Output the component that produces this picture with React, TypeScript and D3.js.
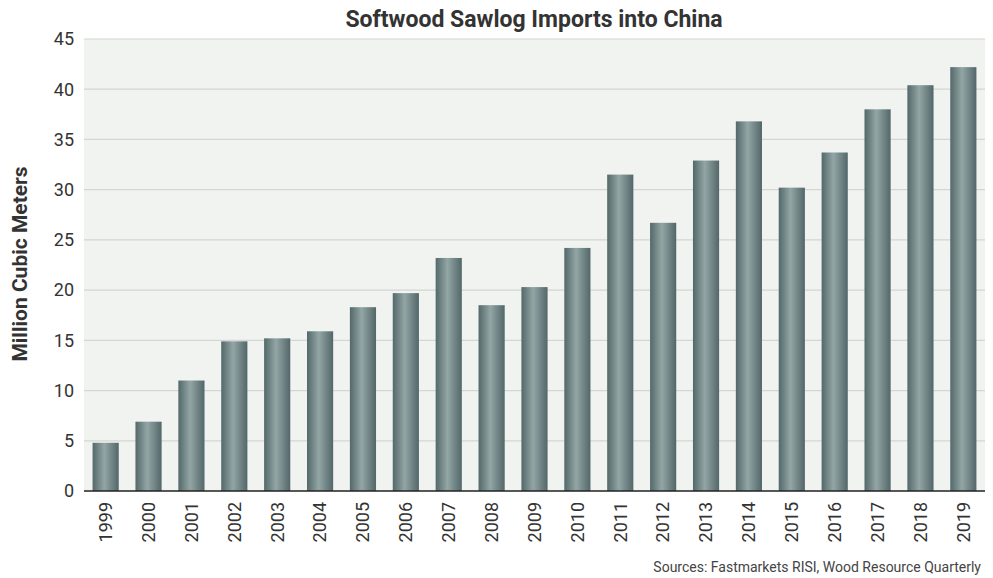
import React from "react";
import * as d3 from "d3";

const years = ["1999","2000","2001","2002","2003","2004","2005","2006","2007","2008","2009","2010","2011","2012","2013","2014","2015","2016","2017","2018","2019"];
const values = [4.8,6.9,11.0,14.9,15.2,15.9,18.3,19.7,23.2,18.5,20.3,24.2,31.5,26.7,32.9,36.8,30.2,33.7,38.0,40.4,42.2];
const yTicks = [0,5,10,15,20,25,30,35,40,45];

const W = 993, H = 578;
const m = { left: 84, right: 8, top: 39, bottom: 87 };

export default function App() {
  const x = d3.scaleBand<string>().domain(years).range([m.left, W - m.right]).paddingInner(0.39).paddingOuter(0.2);
  const y = d3.scaleLinear().domain([0, 45]).range([H - m.bottom, m.top]);
  const font = "Roboto, 'Noto Sans', sans-serif";
  return (
    <svg width={W} height={H} style={{ position: "absolute", left: 0, top: 0 }} fontFamily={font}>
      <defs>
        <linearGradient id="barg" x1="0" x2="1" y1="0" y2="0">
          <stop offset="0%" stopColor="#53686a" />
          <stop offset="45%" stopColor="#93a6a5" />
          <stop offset="100%" stopColor="#53676a" />
        </linearGradient>
      </defs>
      <rect x={0} y={0} width={W} height={H} fill="#ffffff" />
      <rect x={m.left} y={m.top} width={W - m.right - m.left} height={y(0) - m.top} fill="#f0f3ef" />
      {yTicks.map(t => (
        <g key={t}>
          {t > 0 && <line x1={m.left} x2={W - m.right} y1={y(t)} y2={y(t)} stroke="#d3d6d2" strokeWidth={1.2} />}
          <text x={74} y={y(t)} dy="0.35em" textAnchor="end" fontSize={18} fill="#333">{t}</text>
        </g>
      ))}
      {years.map((yr, i) => (
        <rect key={yr} x={x(yr)} y={y(values[i])} width={x.bandwidth()} height={y(0) - y(values[i])} fill="url(#barg)" />
      ))}
      <line x1={m.left} x2={W - m.right} y1={y(0)} y2={y(0)} stroke="#222" strokeWidth={1.5} />
      {years.map(yr => (
        <text key={yr} transform={`translate(${(x(yr) as number) + x.bandwidth() / 2},${y(0) + 11}) rotate(-90)`} textAnchor="end" dy="0.35em" fontSize={18} fill="#333">{yr}</text>
      ))}
      <text x={534} y={27} textAnchor="middle" fontSize={23} fontWeight="bold" fill="#333">Softwood Sawlog Imports into China</text>
      <text transform={`translate(27,264) rotate(-90)`} textAnchor="middle" fontSize={21} fontWeight="bold" fill="#333">Million Cubic Meters</text>
      <text x={981} y={572} textAnchor="end" fontSize={14} fill="#444">Sources: Fastmarkets RISI, Wood Resource Quarterly</text>
    </svg>
  );
}
